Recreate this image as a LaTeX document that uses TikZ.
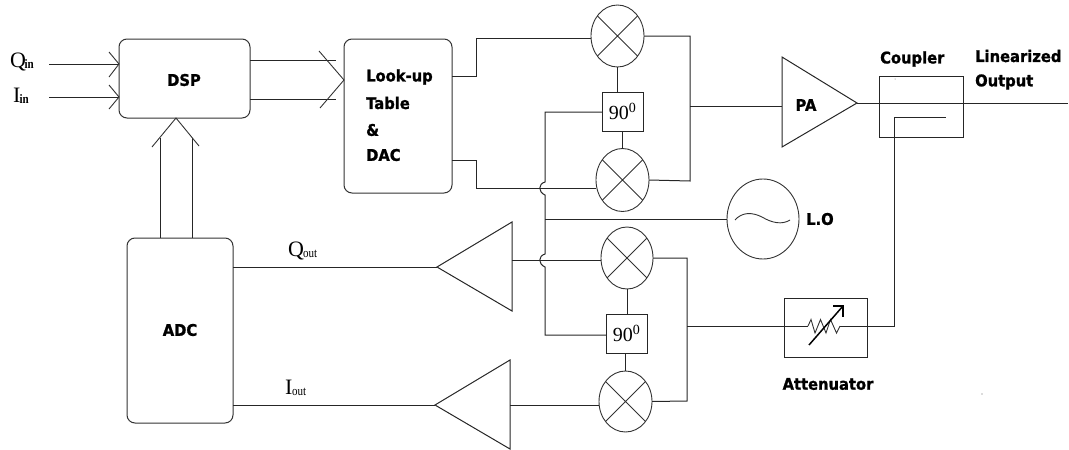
\documentclass[tikz,border=0pt]{standalone}
\usepackage{fontspec}
\setmainfont{Liberation Serif}
\newfontfamily\labfont{DejaVu Sans}[FakeStretch=0.92,BoldFeatures={FakeBold=1.2}]
\usetikzlibrary{shapes.geometric}
\tikzset{
  x=1pt,y=-1pt,
  wire/.style={draw=black!85,line width=1pt,line join=miter},
  thinline/.style={draw=black!80,line width=0.9pt},
  roundbox/.style={draw=black!80,line width=1pt,rounded corners=8pt,inner sep=0pt,outer sep=0pt,rectangle},
  plainbox/.style={draw=black!85,line width=1pt,inner sep=0pt,outer sep=0pt,rectangle},
  mixer/.style={draw=black!80,line width=0.9pt,ellipse,inner sep=0pt,outer sep=0pt},
  lab/.style={font=\labfont\bfseries\fontsize{16}{18}\selectfont,inner sep=0pt,text=black},
  sig/.style={font=\fontsize{22}{24}\selectfont,inner sep=0pt,text=black},
  phase/.style={plainbox,font=\fontsize{20}{22}\selectfont,text=black}
}
\newcommand{\crossin}[1]{\draw[thinline] (#1.45)--(#1.225) (#1.135)--(#1.315);}
\newcommand{\subsm}[1]{\raisebox{-1.5pt}{\fontsize{13}{13}\selectfont\addfontfeature{FakeStretch=0.85}#1}}
\begin{document}
\begin{tikzpicture}
\useasboundingbox (0,0) rectangle (1069,450);
% blocks
\node[roundbox,minimum width=131pt,minimum height=79pt] (dsp) at (184.5,78.5) {};
\node[lab] (dsplab) at (184,80) {DSP};
\node[roundbox,minimum width=108pt,minimum height=154pt] (lut) at (398,116) {};
\node[lab,anchor=west] (l1) at (366,77) {Look-up};
\node[lab,anchor=west] (l2) at (366,103) {Table};
\node[lab,anchor=west] (l3) at (366,130) {\&};
\node[lab,anchor=west] (l4) at (366,155) {DAC};
\node[roundbox,minimum width=106pt,minimum height=185pt] (adc) at (180,330.5) {};
\node[lab] (adclab) at (180,330) {ADC};
% mixers
\node[mixer,minimum width=53pt,minimum height=62pt] (m1) at (617.5,36) {};
\node[mixer,minimum width=53pt,minimum height=63pt] (m2) at (622.5,180) {};
\node[mixer,minimum width=52pt,minimum height=62pt] (m3) at (627,258) {};
\node[mixer,minimum width=53pt,minimum height=61pt] (m4) at (625.5,401.5) {};
\crossin{m1}\crossin{m2}\crossin{m3}\crossin{m4}
% phase shifters
\node[phase,minimum width=41pt,minimum height=39pt] (ps1) at (622.5,111.5) {90$^{\mathrm{0}}$};
\node[phase,minimum width=41pt,minimum height=39pt] (ps2) at (626.5,333.5) {90$^{\mathrm{0}}$};
% coupler, attenuator, LO
\node[plainbox,minimum width=84pt,minimum height=61pt] (coup) at (921,106.5) {};
\node[plainbox,minimum width=83pt,minimum height=59pt] (att) at (825.5,327.5) {};
\node[ellipse,draw=black!80,line width=0.9pt,inner sep=0pt,outer sep=0pt,minimum width=72pt,minimum height=80pt] (lo) at (763,219) {};
\draw[thinline] (735,220) .. controls (742,212) and (752,212) .. (762,217) .. controls (772,223) and (782,225) .. (790,220);
% amplifiers
\coordinate (paA) at (782,57); \coordinate (paB) at (857,103); \coordinate (paC) at (782,147);
\draw[wire] (paA)--(paB)--(paC)--cycle;
\node[lab] (palab) at (806,105) {PA};
\coordinate (a1A) at (512,222); \coordinate (a1B) at (437,267); \coordinate (a1C) at (512,311);
\draw[wire] (a1A)--(a1B)--(a1C)--cycle;
\coordinate (a2A) at (510,360); \coordinate (a2B) at (435,405); \coordinate (a2C) at (510,449);
\draw[wire] (a2A)--(a2B)--(a2C)--cycle;
% labels
\node[sig,anchor=base west] (qin) at (10,67) {Q\kern-1.5pt\subsm{\bfseries in}};
\node[sig,anchor=base west] (iin) at (13,102) {I\kern-1pt\subsm{\bfseries in}};
\node[sig,anchor=base west] (qout) at (288,256) {Q\kern-1pt\subsm{out}};
\node[sig,anchor=base west] (iout) at (285,394) {I\kern-0.5pt\subsm{out}};
\node[lab,anchor=west] (cplab) at (880,59) {Coupler};
\node[lab,anchor=west] (lin) at (975,56) {Linearized};
\node[lab,anchor=west] (outl) at (975,82) {Output};
\node[lab,anchor=west] (lolab) at (806,219) {L.O};
\node[lab] (attlab) at (828,384) {Attenuator};
% input arrows
\coordinate (qs) at (49,64); \coordinate (qe) at (119,64);
\coordinate (is) at (49,97); \coordinate (ie) at (119,97);
\draw[wire] (qs)--(qe) (is)--(ie);
\draw[thinline] (109,52)--(qe)--(109,77) (109,85)--(ie)--(109,109);
% bus DSP -> LUT
\coordinate (b1s) at (250,60); \coordinate (b1e) at (336,60);
\coordinate (b2s) at (250,99); \coordinate (b2e) at (336,99);
\coordinate (btip) at (344,80);
\draw[wire] (b1s)--(b1e) (b2s)--(b2e);
\draw[thinline] (319,51)--(btip)--(320,108);
% bus ADC -> DSP
\coordinate (u1s) at (160,238); \coordinate (u1e) at (160,138);
\coordinate (u2s) at (192,238); \coordinate (u2e) at (192,138);
\coordinate (utip) at (176,118);
\draw[wire] (u1s)--(u1e) (u2s)--(u2e);
\draw[thinline] (152,147)--(utip)--(199,146);
% LUT to upper mixers
\coordinate (la) at (452,76); \coordinate (lb) at (452,160);
\draw[wire] (la)--(476,76)--(476,38)--(m1.west |- 0,38);
\draw[wire] (lb)--(476,160)--(476,188)--(m2.west |- 0,188);
% upper outputs
\draw[wire] (m1.east)--(690,36)--(690,181)--(m2.east);
\coordinate (tapU) at (690,106);
\draw[wire] (tapU)--(paA |- tapU);
% output
\coordinate (outR) at (1068,103);
\draw[wire] (paB)--(outR);
% quadrature connections
\draw[wire] (m1.south)--(ps1.north -| m1.south);
\draw[wire] (ps1.south -| m2.north)--(m2.north);
\draw[wire] (m3.south)--(ps2.north -| m3.south);
\draw[wire] (ps2.south -| m4.north)--(m4.north);
% LO distribution with jumps
\coordinate (j0) at (545,112);
\coordinate (j1) at (545,335);
\draw[wire] (ps1.west |- j0)--(j0)--(545,182) .. controls (538,184) and (538,192) .. (545,195)
  --(545,254) .. controls (538,256) and (538,264) .. (545,267)--(j1)--(ps2.west |- j1);
\coordinate (loj) at (545,219);
\draw[wire] (loj)--(lo.west);
% lower mixers
\draw[wire] (a1A |- 0,260)--(m3.west |- 0,260);
\draw[wire] (a2A |- 0,405)--(m4.west |- 0,405);
\draw[wire] (m3.east)--(687,258)--(687,401)--(m4.east);
% to ADC
\draw[wire] (adc.east |- a1B)--(a1B);
\draw[wire] (adc.east |- a2B)--(a2B);
% attenuator path
\coordinate (tapL) at (687,326);
\coordinate (rl) at (808,326); \coordinate (rr) at (840,326);
\coordinate (cplE) at (946,117); \coordinate (cplC) at (894,117); \coordinate (cplD) at (894,326);
\draw[wire] (tapL)--(rl);
\draw[wire] (rr)--(cplD)--(cplC)--(cplE);
\draw[thinline] (rl)--(811,319.5)--(815,333)--(820.5,319.5)--(826,333)--(830.5,319.5)--(836.5,333)--(rr);
\draw[line width=1.5pt,black] (809,345)--(843,306);
\draw[line width=1.5pt,black] (833,306)--(843,306)--(843,317);
% specks
\fill[black!60] (895,79) circle (0.5);
\fill[black!60] (982,394) circle (0.6);
\end{tikzpicture}
\end{document}
